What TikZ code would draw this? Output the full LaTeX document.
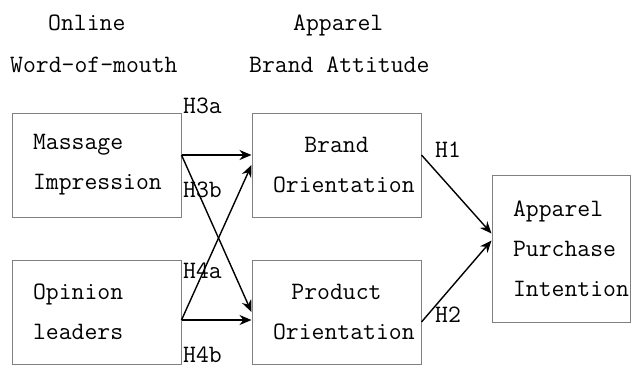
\documentclass[tikz,border=0pt]{standalone}
\usepackage{fontspec}
\usetikzlibrary{arrows.meta,positioning}

\begin{document}
\begin{tikzpicture}[
        x=1pt, y=1pt,
        font=\ttfamily\fontsize{25}{40}\selectfont,
        factor/.style={rectangle, draw=gray, line width=1pt, inner xsep=21pt,
                       minimum height=104pt},
        leftbox/.style={factor, text width=127pt, align=left},
        midbox/.style={factor, text width=127pt, align=center},
        label/.style={inner sep=0pt, anchor=base west},
        arrow/.style={-{Stealth[length=12pt, width=10pt]}, line width=1.4pt}
    ]
        \useasboundingbox (0,0) rectangle (631,-367);

        % column headings
        \node[label] (online) at (48,-30) {Online};
        \node[label] (wom) at (10,-72) {Word-of-mouth};
        \node[label] (apparelhead) at (293,-30) {Apparel};
        \node[label] (attitude) at (249,-72) {Brand Attitude};

        % constructs
        \node[leftbox] (massage) at (96.5,-165) {Massage \\ Impression};
        \node[midbox, right=70pt of massage] (brand) {Brand \\ Orientation};
        \node[leftbox, below=42pt of massage] (opinion) {Opinion \\ leaders};
        \node[midbox, right=70pt of opinion] (product) {Product \\ Orientation};
        \node[factor, text width=96pt, align=left, minimum height=147pt] (apparel) at (561,-248.5)
            {Apparel \\ Purchase \\ Intention};

        % paths
        \draw[arrow] ([yshift=10pt]massage.east) -- ([yshift=10pt]brand.west);
        \draw[arrow] ([yshift=10pt]massage.east) -- (product.west);
        \draw[arrow] ([yshift=-8pt]opinion.east) -- (brand.west);
        \draw[arrow] ([yshift=-8pt]opinion.east) -- ([yshift=-8pt]product.west);
        \draw[arrow] ([yshift=10pt]brand.east) -- ([yshift=15pt]apparel.west);
        \draw[arrow] ([yshift=-10pt]product.east) -- ([yshift=8pt]apparel.west);

        % hypotheses
        \node[label] (h3a) at (183,-113) {H3a};
        \node[label] (h3b) at (183,-197) {H3b};
        \node[label] (h4a) at (183,-278) {H4a};
        \node[label] (h4b) at (183,-362) {H4b};
        \node[label] (h1) at (435,-157) {H1};
        \node[label] (h2) at (435,-322) {H2};
    \end{tikzpicture}
\end{document}
